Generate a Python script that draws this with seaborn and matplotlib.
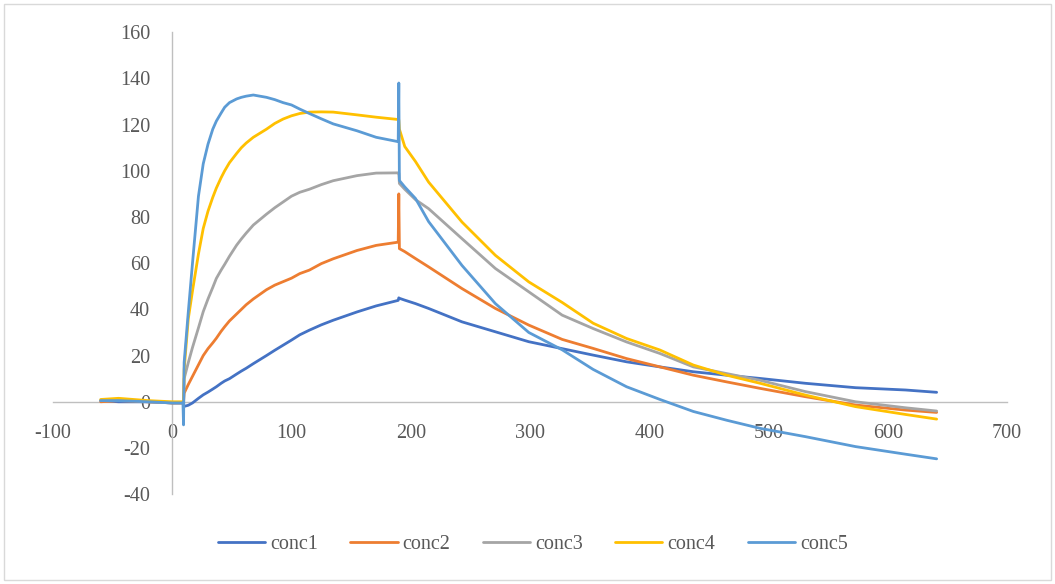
import pandas as pd
import numpy as np
import seaborn as sns
import matplotlib.pyplot as plt

# sensorgram values (time in s, response)
time = [-60, -45, -20, 0, 9, 9.5, 10, 13.5, 17, 22, 26, 30, 34, 37, 41, 44, 48, 54, 58,
        62, 68, 79, 86, 93, 100, 107, 115, 125, 135, 155, 171, 189.5, 190, 190.5, 195, 204,
        215, 243, 271, 299, 327, 353, 381, 409, 437, 465, 493,
        531, 573, 615, 641]

conc1 = [0.5, 0, 0, -0.5, -0.5, -1, -2, -1.5, -0.5, 1.5, 3, 4.2, 5.5, 6.5, 8, 9, 10, 12, 13.3,
         14.5, 16.5, 20, 22.3, 24.5, 26.7, 29, 31, 33.3, 35.3, 38.9, 41.5, 43.9, 45, 44.8, 44, 42.5,
         40.4, 34.6, 30.3, 26, 23, 20.2, 17.3, 15.1, 13, 11.5, 10.1,
         8.0, 6.1, 5.1, 4.1]
conc2 = [0, 0.5, 0, -0.5, -0.5, 0, 3.7, 7.5, 11, 16, 20, 23, 25.5, 27.5, 30.5, 32.5, 35, 38, 40,
         42, 44.5, 48.5, 50.5, 52, 53.5, 55.5, 57, 59.8, 61.9, 65.5, 67.7, 69.1, 90, 66.3, 65, 62,
         58.4, 49, 40.4, 33.2, 27, 23.1, 18.7, 15.1, 11.5, 8.6, 5.8,
         2.2, -1.4, -3.6, -4.6]
conc3 = [0.5, 1, 0, -0.5, -0.5, 0, 10, 17, 23.5, 32, 39, 44.5, 49.5, 53.4, 57, 59.5, 63, 67.8, 70.5,
         73, 76.5, 81.2, 84, 86.5, 89, 90.7, 92, 94, 95.7, 97.9, 99, 99.1, 99, 94.5, 92, 87.5,
         83.6, 70.6, 57.7, 47.6, 37.5, 31.7, 25.9, 20.9, 15.1, 12.2, 9.3,
         4.4, 0, -2.6, -4]
conc4 = [1, 1.5, 0.5, 0, 0, 0, 14, 36, 48, 64, 75, 82.5, 88.5, 92.5, 97, 100, 103.5, 107.5, 110,
         112, 114.5, 118, 120.5, 122.4, 123.8, 124.8, 125.4, 125.5, 125.4, 124.2, 123.2, 122.2, 122, 118, 110.5, 104,
         95.1, 77.8, 63.4, 51.9, 43, 34, 27.4, 22.4, 15.9, 11.5, 8,
         2.9, -2.1, -5.5, -7.5]
conc5 = [0.5, 0.5, 0, -0.5, -0.5, -10, 17, 39, 60, 89, 103, 111.5, 118, 121.5, 125, 127.5, 129.5, 131.1, 131.8,
         132.3, 132.8, 131.8, 130.8, 129.5, 128.5, 126.7, 124.8, 122.5, 120.3, 117.3, 114.5, 112.6, 138, 95.8, 93, 88,
         78, 59, 42.5, 30, 22.5, 14, 6.5, 1, -4.2, -8, -11.5,
         -15.1, -19.4, -22.7, -24.7]

names = ["conc1", "conc2", "conc3", "conc4", "conc5"]
colors = ["#4472C4", "#ED7D31", "#A5A5A5", "#FFC000", "#5B9BD5"]

df = pd.DataFrame({
    "time": time * 5,
    "response": conc1 + conc2 + conc3 + conc4 + conc5,
    "series": np.repeat(names, len(time)),
})

sns.set_style("white")
plt.rcParams["font.family"] = ["Liberation Serif", "DejaVu Serif"]
plt.rcParams["axes.unicode_minus"] = False

fig = plt.figure(figsize=(10.55, 5.84), dpi=100)
ax = fig.add_axes([0.0502, 0.1538, 0.9043, 0.7911])

sns.lineplot(data=df, x="time", y="response", hue="series", palette=colors,
             estimator=None, linewidth=2, ax=ax)

ax.set_xlim(-100, 700)
ax.set_ylim(-40, 160)
ax.set_xticks(range(-100, 701, 100))
ax.set_yticks(range(-40, 161, 20))
ax.set_xlabel("")
ax.set_ylabel("")

for side in ["top", "right"]:
    ax.spines[side].set_visible(False)
for side in ["left", "bottom"]:
    ax.spines[side].set_position(("data", 0))
    ax.spines[side].set_color("#BFBFBF")
    ax.spines[side].set_linewidth(1)
    ax.spines[side].set_zorder(0.6)
ax.tick_params(length=0, labelsize=14.5, labelcolor="#595959", pad=16)

sns.move_legend(ax, "center", bbox_to_anchor=(0.505, 0.067), bbox_transform=fig.transFigure,
                ncol=5, frameon=False, title=None, fontsize=14.5, labelcolor="#595959",
                handlelength=2.35, handletextpad=0.25, columnspacing=1.6)

fig.add_artist(plt.Rectangle((0.004, 0.007), 0.992, 0.986, transform=fig.transFigure,
                             fill=False, edgecolor="#D9D9D9", linewidth=1))

fig.savefig("out.png", dpi=100)
